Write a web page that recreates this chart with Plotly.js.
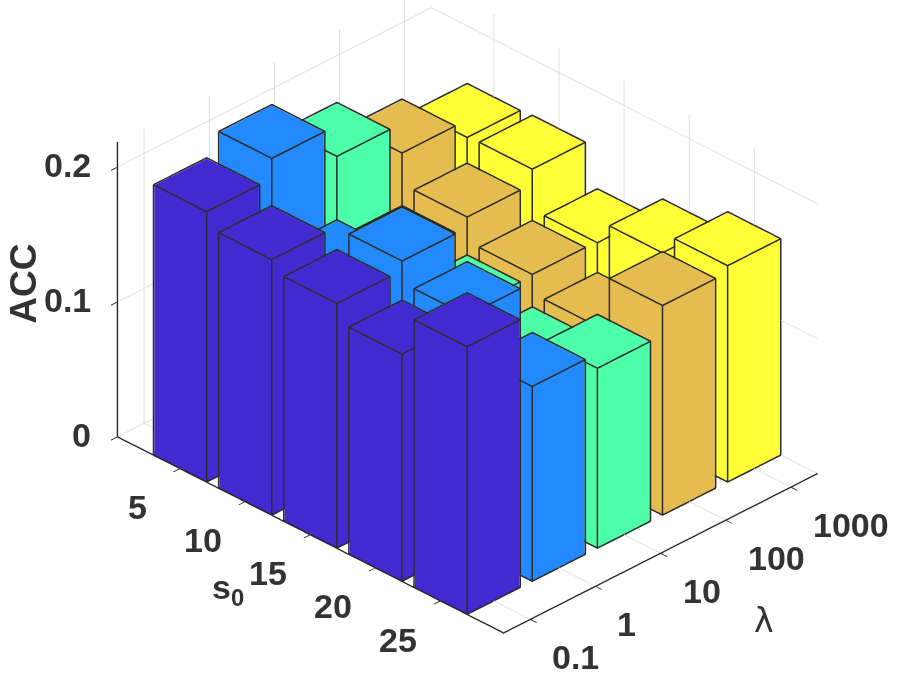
<!DOCTYPE html>
<html>
<head>
<meta charset="utf-8">
<script src="https://cdn.plot.ly/plotly-3.0.1.min.js"></script>
<style>
html, body { margin: 0; padding: 0; background: #fff; }
#plot { width: 897px; height: 677px; }
</style>
</head>
<body>
<div id="plot"></div>
<script>
// tick labels
const s0Labels = ['5', '10', '15', '20', '25'];
const lambdaLabels = ['0.1', '1', '10', '100', '1000'];
const accTicks = [0, 0.1, 0.2];

// ACC per s0, one value per lambda
const accS5  = [0.200, 0.215, 0.192, 0.170, 0.157];
const accS10 = [0.189, 0.154, 0.140, 0.147, 0.158];
const accS15 = [0.181, 0.188, 0.128, 0.129, 0.128];
const accS20 = [0.168, 0.172, 0.114, 0.115, 0.145];
const accS25 = [0.198, 0.144, 0.133, 0.155, 0.160];
const accRows = [accS5, accS10, accS15, accS20, accS25];

const barColors = ['#4329d0', '#2389ff', '#4dffa8', '#e5bc4f', '#ffff38'];
const edgeColor = '#2b2b2b';
const barHalf = 0.4;
// edges sit just outside the faces so the depth test keeps them
const edgePad = 0.008;

const xRange = [0.04, 5.97];
const yRange = [0.59, 5.41];
const zRange = [0, 0.2185];

function barMesh(col) {
    let x = [], y = [], z = [], i = [], j = [], k = [];
    accRows.forEach(function (row, r) {
        let n = x.length;
        let cx = r + 1, cy = col + 1, h = row[col];
        [[-1, -1, 0], [1, -1, 0], [1, 1, 0], [-1, 1, 0],
         [-1, -1, 1], [1, -1, 1], [1, 1, 1], [-1, 1, 1]].forEach(function (c) {
            x.push(cx + c[0] * barHalf);
            y.push(cy + c[1] * barHalf);
            z.push(c[2] * h);
        });
        [[0, 1, 2], [0, 2, 3], [4, 5, 6], [4, 6, 7], [0, 1, 5], [0, 5, 4],
         [1, 2, 6], [1, 6, 5], [2, 3, 7], [2, 7, 6], [3, 0, 4], [3, 4, 7]].forEach(function (t) {
            i.push(n + t[0]); j.push(n + t[1]); k.push(n + t[2]);
        });
    });
    return {
        type: 'mesh3d', x: x, y: y, z: z, i: i, j: j, k: k,
        color: barColors[col], opacity: 1, flatshading: true, showscale: false,
        lighting: { ambient: 1, diffuse: 0, specular: 0, roughness: 1, fresnel: 0 },
        hoverinfo: 'skip'
    };
}

function barEdges() {
    let x = [], y = [], z = [];
    let half = barHalf + edgePad;
    accRows.forEach(function (row, r) {
        row.forEach(function (v, col) {
            let h = v + 0.0004;
            let cx = r + 1, cy = col + 1;
            let x0 = cx - half, x1 = cx + half, y0 = cy - half, y1 = cy + half;
            // top ring, then the bottom ring, then the uprights
            x.push(x0, x1, x1, x0, x0, null); y.push(y0, y0, y1, y1, y0, null); z.push(h, h, h, h, h, null);
            x.push(x0, x1, x1, x0, x0, null); y.push(y0, y0, y1, y1, y0, null); z.push(0, 0, 0, 0, 0, null);
            [[x0, y0], [x1, y0], [x1, y1], [x0, y1]].forEach(function (p) {
                x.push(p[0], p[0], null); y.push(p[1], p[1], null); z.push(0, h, null);
            });
        });
    });
    return {
        type: 'scatter3d', mode: 'lines', x: x, y: y, z: z,
        line: { color: edgeColor, width: 3 }, hoverinfo: 'skip', showlegend: false
    };
}

const labelFont = { family: 'Liberation Sans, Arial, sans-serif', size: 34, color: '#333333' };
const xEdge = xRange[0] + 0.01, yEdge = yRange[0] + 0.01;

let annotations = [];
s0Labels.forEach(function (t, r) {
    annotations.push({ x: r + 1, y: yEdge, z: 0, text: '<b>' + t + '</b>', showarrow: false,
        xanchor: 'center', yanchor: 'middle', xshift: -43, yshift: -39, font: labelFont });
});
lambdaLabels.forEach(function (t, c) {
    annotations.push({ x: xRange[1], y: c + 1, z: 0, text: '<b>' + t + '</b>', showarrow: false,
        xanchor: 'left', yanchor: 'middle', xshift: 20, yshift: -38, font: labelFont });
});
accTicks.forEach(function (v) {
    annotations.push({ x: xEdge, y: yEdge, z: v, text: '<b>' + v + '</b>', showarrow: false,
        xanchor: 'right', yanchor: 'middle', xshift: -26, yshift: 2, font: labelFont });
});
annotations.push({ x: 3, y: yEdge, z: 0, text: '<b>s<sub>0</sub></b>', showarrow: false,
    xanchor: 'center', yanchor: 'middle', xshift: -83, yshift: -55, font: labelFont });
annotations.push({ x: xRange[1], y: 2.9, z: 0, text: 'λ', showarrow: false,
    xanchor: 'center', yanchor: 'middle', xshift: 110, yshift: -64,
    font: { family: 'DejaVu Sans, sans-serif', size: 33, color: '#333333' } });
annotations.push({ x: xEdge, y: yEdge, z: 0.1, text: '<b>ACC</b>', showarrow: false, textangle: -90,
    xanchor: 'center', yanchor: 'middle', xshift: -95, yshift: 18,
    font: { family: labelFont.family, size: 37, color: '#333333' } });

const gridColor = '#dddddd';
function sceneAxis(range, vals) {
    return {
        range: range, tickmode: 'array', tickvals: vals, showticklabels: false,
        title: { text: '' }, autorange: false,
        showgrid: true, gridcolor: gridColor, gridwidth: 2,
        showline: true, linecolor: '#262626', linewidth: 3,
        ticks: 'outside', ticklen: 9, tickcolor: '#262626', tickwidth: 2,
        zeroline: false, showbackground: false, showspikes: false
    };
}

const layout = {
    width: 897, height: 677,
    margin: { l: 0, r: 0, t: 0, b: 0 },
    paper_bgcolor: '#ffffff',
    showlegend: false,
    scene: {
        domain: { x: [0, 1], y: [0, 1] },
        aspectmode: 'manual',
        aspectratio: { x: 1.6135, y: 1.3115, z: 1.0106 },
        camera: {
            projection: { type: 'orthographic' },
            up: { x: 0, y: 0, z: 1 },
            center: { x: -0.0072, y: -0.0721, z: -0.078 },
            eye: { x: 1.0888, y: -1.168, z: 0.8356 }
        },
        xaxis: sceneAxis(xRange, [1, 2, 3, 4, 5]),
        yaxis: sceneAxis(yRange, [1, 2, 3, 4, 5]),
        zaxis: sceneAxis(zRange, accTicks),
        annotations: annotations
    }
};

const traces = barColors.map(function (c, col) { return barMesh(col); });
traces.push(barEdges());

Plotly.newPlot('plot', traces, layout, { displayModeBar: false });
</script>
</body>
</html>
